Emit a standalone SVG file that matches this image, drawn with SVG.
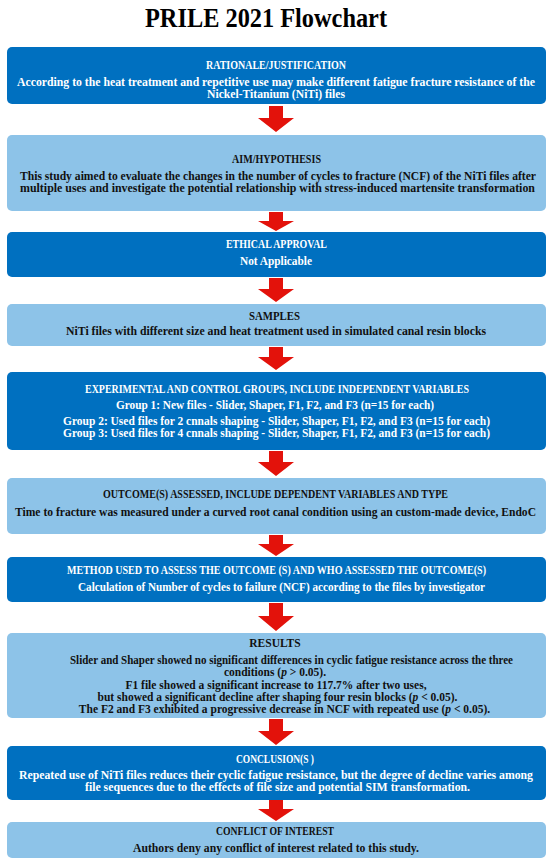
<svg xmlns="http://www.w3.org/2000/svg" width="550" height="865" viewBox="0 0 550 865">
<style>
.dark{fill:#0070C0}
.light{fill:#8DC3E8}
.arrow{fill:#E3120B}
text{font-family:"Liberation Serif","Times New Roman",serif;font-weight:bold;font-size:11.5px;text-anchor:middle}
.w{fill:#ffffff}
.k{fill:#111111}
.title{font-size:27px;fill:#000}
</style>
<rect width="550" height="865" fill="#ffffff"/>
<text class="title" x="266" y="27" textLength="242" lengthAdjust="spacingAndGlyphs">PRILE 2021 Flowchart</text>
<g id="connectors">
<polygon class="arrow" points="269,106 283,106 283,118 294,118 276,132 258,118 269,118"/>
<polygon class="arrow" points="269,212 283,212 283,221 294,221 276,231 258,221 269,221"/>
<polygon class="arrow" points="269,278 283,278 283,289 294,289 276,302 258,289 269,289"/>
<polygon class="arrow" points="269,347 283,347 283,357 294,357 276,370 258,357 269,357"/>
<polygon class="arrow" points="269,451 283,451 283,462 294,462 276,476 258,462 269,462"/>
<polygon class="arrow" points="269,535 283,535 283,544 294,544 276,556 258,544 269,544"/>
<polygon class="arrow" points="269,603 283,603 283,616 294,616 276,631 258,616 269,616"/>
<polygon class="arrow" points="269,719 283,719 283,731 294,731 276,745 258,731 269,731"/>
<polygon class="arrow" points="269,800 283,800 283,809 294,809 276,821 258,809 269,809"/>
</g>
<g id="rationale">
<rect class="dark" x="7" y="47" width="539" height="57" rx="5"/>
<text class="w" x="276" y="69" textLength="140" lengthAdjust="spacingAndGlyphs">RATIONALE/JUSTIFICATION</text>
<text class="w" x="276" y="86" textLength="518" lengthAdjust="spacingAndGlyphs">According to the heat treatment and repetitive use may make different fatigue fracture resistance of the</text>
<text class="w" x="276" y="98" textLength="138" lengthAdjust="spacingAndGlyphs">Nickel-Titanium (NiTi) files</text>
</g>
<g id="aim">
<rect class="light" x="7" y="135" width="539" height="76" rx="5"/>
<text class="k" x="276.5" y="163" textLength="89" lengthAdjust="spacingAndGlyphs">AIM/HYPOTHESIS</text>
<text class="k" x="278" y="180" textLength="516" lengthAdjust="spacingAndGlyphs">This study aimed to evaluate the changes in the number of cycles to fracture (NCF) of the NiTi files after</text>
<text class="k" x="277.5" y="192" textLength="515" lengthAdjust="spacingAndGlyphs">multiple uses and investigate the potential relationship with stress-induced martensite transformation</text>
</g>
<g id="ethical">
<rect class="dark" x="7" y="232" width="539" height="45" rx="5"/>
<text class="w" x="276.5" y="248" textLength="101" lengthAdjust="spacingAndGlyphs">ETHICAL APPROVAL</text>
<text class="w" x="276" y="265" textLength="72" lengthAdjust="spacingAndGlyphs">Not Applicable</text>
</g>
<g id="samples">
<rect class="light" x="7" y="304" width="539" height="42" rx="5"/>
<text class="k" x="274.5" y="320" textLength="51" lengthAdjust="spacingAndGlyphs">SAMPLES</text>
<text class="k" x="276" y="335" textLength="420" lengthAdjust="spacingAndGlyphs">NiTi files with different size and heat treatment used in simulated canal resin blocks</text>
</g>
<g id="groups">
<rect class="dark" x="7" y="372" width="539" height="78" rx="5"/>
<text class="w" x="277" y="393" textLength="384" lengthAdjust="spacingAndGlyphs">EXPERIMENTAL AND CONTROL GROUPS, INCLUDE INDEPENDENT VARIABLES</text>
<text class="w" x="275" y="409" textLength="318" lengthAdjust="spacingAndGlyphs">Group 1: New files - Slider, Shaper, F1, F2, and F3 (n=15 for each)</text>
<text class="w" x="276.5" y="425" textLength="427" lengthAdjust="spacingAndGlyphs">Group 2: Used files for 2 cnnals shaping - Slider, Shaper, F1, F2, and F3 (n=15 for each)</text>
<text class="w" x="276.5" y="437" textLength="427" lengthAdjust="spacingAndGlyphs">Group 3: Used files for 4 cnnals shaping - Slider, Shaper, F1, F2, and F3 (n=15 for each)</text>
</g>
<g id="outcome">
<rect class="light" x="7" y="478" width="539" height="56" rx="5"/>
<text class="k" x="275.5" y="498" textLength="345" lengthAdjust="spacingAndGlyphs">OUTCOME(S) ASSESSED, INCLUDE DEPENDENT VARIABLES AND TYPE</text>
<text class="k" x="275.5" y="516" textLength="521" lengthAdjust="spacingAndGlyphs">Time to fracture was measured under a curved root canal condition using an custom-made device, EndoC</text>
</g>
<g id="method">
<rect class="dark" x="7" y="557" width="539" height="45" rx="5"/>
<text class="w" x="276.5" y="574" textLength="419" lengthAdjust="spacingAndGlyphs">METHOD USED TO ASSESS THE OUTCOME (S) AND WHO ASSESSED THE OUTCOME(S)</text>
<text class="w" x="281.5" y="591" textLength="407" lengthAdjust="spacingAndGlyphs">Calculation of Number of cycles to failure (NCF) according to the files by investigator</text>
</g>
<g id="results">
<rect class="light" x="7" y="633" width="539" height="85" rx="5"/>
<text class="k" x="275" y="647">RESULTS</text>
<text class="k" x="291.5" y="664" textLength="443" lengthAdjust="spacingAndGlyphs">Slider and Shaper showed no significant differences in cyclic fatigue resistance across the three</text>
<text class="k" x="275" y="676">conditions (<tspan font-style="italic">p</tspan> &gt; 0.05).</text>
<text class="k" x="276" y="689">F1 file showed a significant increase to 117.7% after two uses,</text>
<text class="k" x="277.5" y="701">but showed a significant decline after shaping four resin blocks (<tspan font-style="italic">p</tspan> &lt; 0.05).</text>
<text class="k" x="284.5" y="713">The F2 and F3 exhibited a progressive decrease in NCF with repeated use (<tspan font-style="italic">p</tspan> &lt; 0.05).</text>
</g>
<g id="conclusion">
<rect class="dark" x="7" y="746" width="539" height="54" rx="5"/>
<text class="w" x="275" y="763" textLength="78" lengthAdjust="spacingAndGlyphs">CONCLUSION(S )</text>
<text class="w" x="276" y="779" textLength="514" lengthAdjust="spacingAndGlyphs">Repeated use of NiTi files reduces their cyclic fatigue resistance, but the degree of decline varies among</text>
<text class="w" x="277.5" y="791" textLength="385" lengthAdjust="spacingAndGlyphs">file sequences due to the effects of file size and potential SIM transformation.</text>
</g>
<g id="conflict">
<rect class="light" x="7" y="822" width="539" height="36" rx="5"/>
<text class="k" x="275" y="835" textLength="118" lengthAdjust="spacingAndGlyphs">CONFLICT OF INTEREST</text>
<text class="k" x="276" y="852" textLength="286" lengthAdjust="spacingAndGlyphs">Authors deny any conflict of interest related to this study.</text>
</g>
</svg>
